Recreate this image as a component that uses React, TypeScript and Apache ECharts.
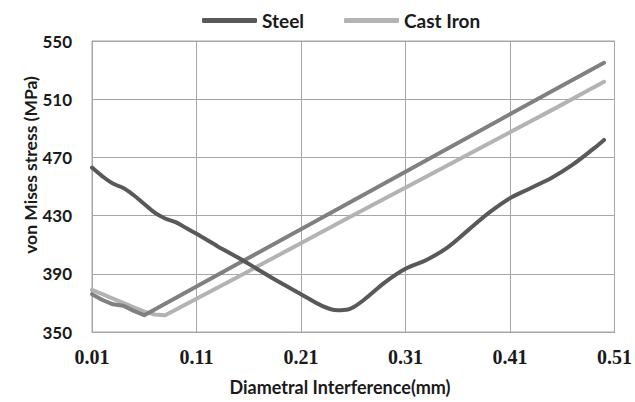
import React, { useEffect, useRef } from "react";
import * as echarts from "echarts";

// Diametral interference (mm) against von Mises stress (MPa)
const steelX = [0.01, 0.02, 0.03, 0.04, 0.05, 0.06, 0.07, 0.08, 0.09, 0.10, 0.11, 0.13, 0.15, 0.17, 0.19, 0.21, 0.23, 0.245, 0.255, 0.27, 0.29, 0.31, 0.33, 0.35, 0.37, 0.39, 0.41, 0.43, 0.45, 0.47, 0.49, 0.50];
const steelY = [463, 457, 452, 449, 444, 438, 432, 428, 425.5, 421.5, 417.5, 409, 401, 392.5, 384, 376, 368, 365, 365.5, 372, 384, 393.5, 399.5, 408, 420, 432, 442, 449, 456, 465, 476, 482];

const altX = [0.01, 0.02, 0.03, 0.04, 0.05, 0.06, 0.15, 0.25, 0.35, 0.45, 0.50];
const altY = [376, 372, 369, 368, 364.5, 361.5, 397, 436.5, 476, 515.5, 535];

const castIronX = [0.01, 0.02, 0.03, 0.04, 0.05, 0.06, 0.07, 0.08, 0.15, 0.25, 0.35, 0.45, 0.50];
const castIronY = [379, 376, 373, 370, 367, 364, 362, 361.5, 388, 426.5, 464.5, 502.5, 522];

const xTicks = { min: 0.01, max: 0.51, step: 0.1 };
const yTicks = { min: 350, max: 550, step: 40 };

const pairs = (xs: number[], ys: number[]) => xs.map((x, i) => [x, ys[i]]);

const labelFont = "Lato";

export default function App() {
  const ref = useRef<HTMLDivElement>(null);

  useEffect(() => {
    if (!ref.current) return;
    const chart = echarts.init(ref.current, undefined, { renderer: "svg" });
    const lineStyle = (color: string) => ({ color, width: 4, cap: "round" as const, join: "round" as const });
    chart.setOption({
      animation: false,
      backgroundColor: "#ffffff",
      grid: {
        left: 92,
        right: 20,
        top: 41,
        bottom: 70,
        show: true,
        borderColor: "#a6a6a6",
        borderWidth: 1,
      },
      legend: {
        data: ["Steel", "Cast Iron"],
        left: 197,
        top: 6,
        icon: "roundRect",
        itemWidth: 55,
        itemHeight: 5,
        itemGap: 40,
        textStyle: { fontFamily: labelFont, fontWeight: "bold", fontSize: 19, color: "#1a1a1a" },
      },
      xAxis: {
        type: "value",
        min: xTicks.min,
        max: xTicks.max,
        interval: xTicks.step,
        axisLine: { show: true, lineStyle: { color: "#a6a6a6" } },
        axisTick: { show: false },
        splitLine: { show: true, lineStyle: { color: "#a6a6a6", width: 1 } },
        axisLabel: {
          margin: 15,
          fontFamily: "Liberation Serif",
          fontWeight: "bold",
          fontSize: 20,
          color: "#1a1a1a",
          formatter: (v: number) => v.toFixed(2),
        },
      },
      yAxis: {
        type: "value",
        min: yTicks.min,
        max: yTicks.max,
        interval: yTicks.step,
        axisLine: { show: true, lineStyle: { color: "#a6a6a6" } },
        axisTick: { show: false },
        splitLine: { show: true, lineStyle: { color: "#a6a6a6", width: 1 } },
        axisLabel: {
          margin: 20,
          fontFamily: labelFont,
          fontWeight: "bold",
          fontSize: 17,
          color: "#1a1a1a",
          formatter: (v: number) => String(Math.round(v)),
        },
      },
      graphic: [
        {
          type: "text",
          x: 30,
          y: 165,
          rotation: Math.PI / 2,
          style: {
            text: "von Mises stress (MPa)",
            fontFamily: labelFont,
            fontWeight: "bold",
            fontSize: 17.5,
            fill: "#1a1a1a",
            textAlign: "center",
            textVerticalAlign: "middle",
          },
        },
        {
          type: "text",
          x: 340,
          y: 387,
          style: {
            text: "Diametral Interference(mm)",
            fontFamily: labelFont,
            fontWeight: "bold",
            fontSize: 18,
            fill: "#1a1a1a",
            textAlign: "center",
            textVerticalAlign: "middle",
          },
        },
      ],
      series: [
        {
          name: "Steel",
          type: "line",
          data: pairs(steelX, steelY),
          smooth: 0.35,
          showSymbol: false,
          itemStyle: { color: "#595959" },
          lineStyle: lineStyle("#595959"),
          z: 3,
        },
        {
          name: "Series 3",
          type: "line",
          data: pairs(altX, altY),
          showSymbol: false,
          itemStyle: { color: "#808080" },
          lineStyle: lineStyle("#808080"),
          z: 2,
        },
        {
          name: "Cast Iron",
          type: "line",
          data: pairs(castIronX, castIronY),
          showSymbol: false,
          itemStyle: { color: "#b3b3b3" },
          lineStyle: lineStyle("#b3b3b3"),
          z: 1,
        },
      ],
    });
    return () => chart.dispose();
  }, []);

  return (
    <div
      ref={ref}
      style={{ position: "fixed", left: 0, top: 0, width: 635, height: 402 }}
    />
  );
}
